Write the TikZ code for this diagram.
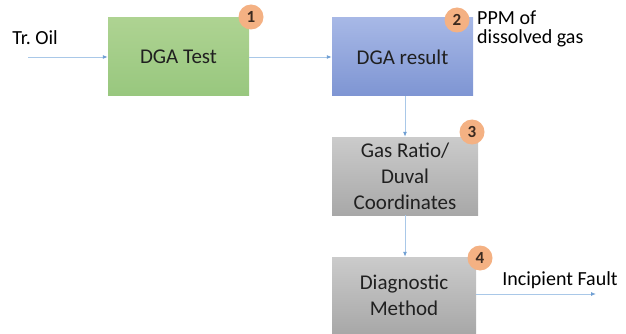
\documentclass[tikz,border=0pt]{standalone}
\usepackage{fontspec}
\setmainfont{Carlito}
\usetikzlibrary{arrows.meta}
\definecolor{greentop}{HTML}{AED392}
\definecolor{greenbot}{HTML}{98C77E}
\definecolor{bluetop}{HTML}{A7B8E6}
\definecolor{bluebot}{HTML}{7E95D3}
\definecolor{graytop}{HTML}{CBCBCB}
\definecolor{graybot}{HTML}{A8A8A8}
\definecolor{badgeorange}{HTML}{F4B183}
\definecolor{badgetext}{HTML}{3B2A20}
\definecolor{boxtext}{HTML}{202020}
\definecolor{flowline}{HTML}{A9C8E8}
\definecolor{flowtip}{HTML}{6F9FD3}
\begin{document}
\begin{tikzpicture}[x=1pt,y=-1pt,
    box/.style={minimum width=141pt,minimum height=78pt,inner sep=0pt,align=center,text=boxtext,font=\fontsize{21}{26}\selectfont},
    badge/.style={circle,fill=badgeorange,minimum size=25pt,inner sep=0pt,text=badgetext,font=\fontsize{17}{17}\selectfont\bfseries},
    flow/.style={draw=flowline,line width=0.9pt,-{Latex[length=5pt,width=4pt,color=flowtip]}},
    lbl/.style={inner sep=0pt,font=\fontsize{20}{19}\selectfont}]
  \useasboundingbox (0,0) rectangle (626,334);
  % boxes
  \node[box,top color=greentop,bottom color=greenbot] (test) at (178.5,57) {DGA Test};
  \node[box,top color=bluetop,bottom color=bluebot] (result) at (402.5,57) {DGA result};
  \node[box,minimum width=146pt,top color=graytop,bottom color=graybot] (ratio) at (405,176) {Gas Ratio/\\Duval\\Coordinates};
  \node[box,minimum width=144pt,minimum height=76pt,top color=graytop,bottom color=graybot] (method) at (404,295) {Diagnostic\\Method};
  % numbers
  \node[badge] (n1) at (251,17) {1};
  \node[badge] (n2) at (457,20) {2};
  \node[badge] (n3) at (472,132) {3};
  \node[badge] (n4) at (480,258) {4};
  % labels
  \node[lbl] (oil) at (35,38) {Tr.\ Oil};
  \node[lbl,anchor=north west,align=left] (ppm) at (477,11) {PPM of\\dissolved gas};
  \node[lbl] (fault) at (560,280) {Incipient Fault};
  \coordinate (oilin) at (28,57);
  \coordinate (faultout) at (596,294);
  % flow
  \draw[flow] (oilin) -- (test);
  \draw[flow] (test) -- (result);
  \draw[flow] (result.south -| ratio.north) -- (ratio);
  \draw[flow] (ratio) -- (method.north -| ratio.south);
  \draw[flow] (method.east |- faultout) -- (faultout);
\end{tikzpicture}
\end{document}
